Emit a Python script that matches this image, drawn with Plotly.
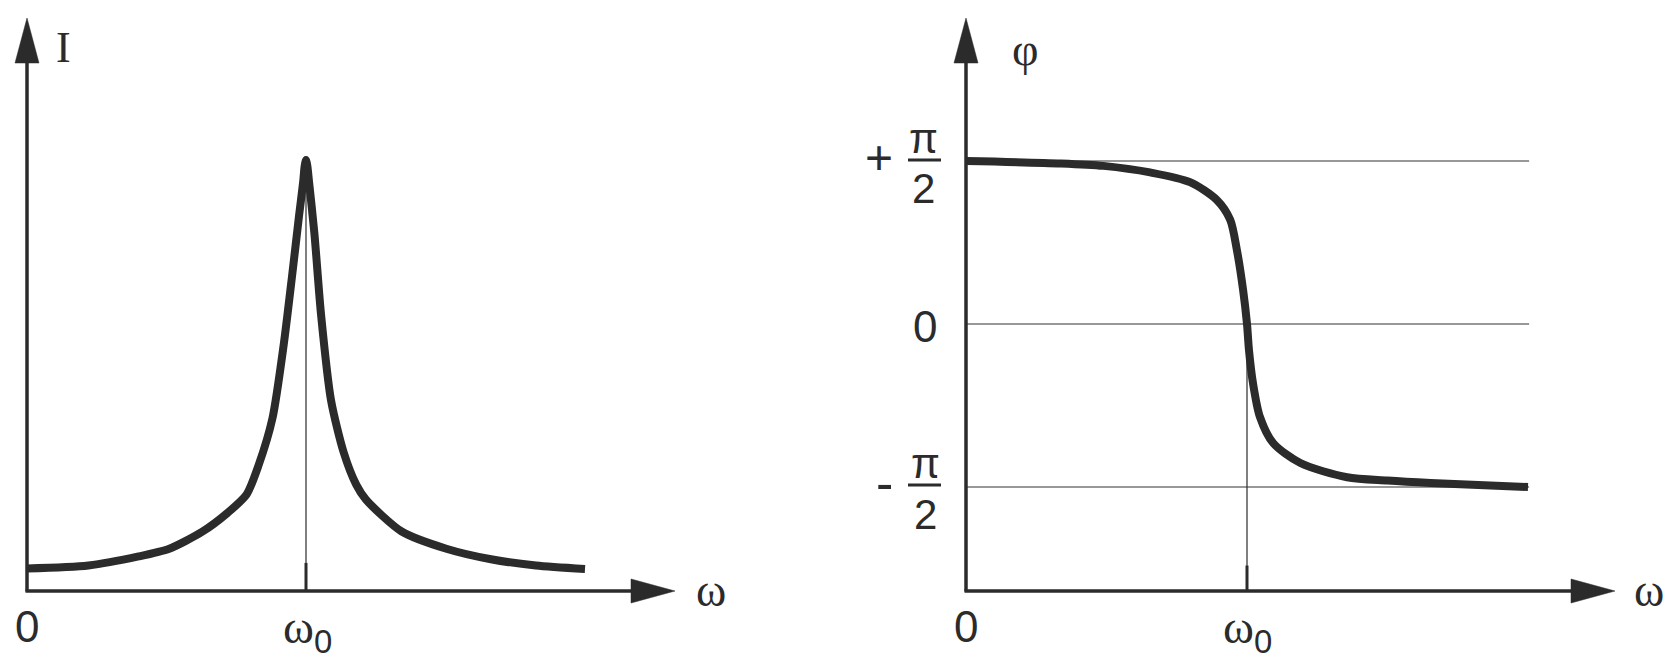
import plotly.graph_objects as go

W, H = 1677, 661
INK = "#2b2b2b"

# ---------------- data ----------------
# resonance curve: omega in units of omega0, current in units of peak current
omega_I = [0.0, 0.22, 0.40, 0.51, 0.627, 0.72, 0.787, 0.83, 0.88, 0.92, 0.95,
           0.975, 0.99, 0.995, 1.0, 1.005, 1.01, 1.03, 1.054, 1.09,
           1.135, 1.18, 1.215, 1.343, 1.503, 1.663, 1.824, 2.0]
I_vals = [0.050, 0.057, 0.078, 0.096, 0.135, 0.18, 0.222, 0.29, 0.40, 0.57, 0.73,
          0.87, 0.95, 0.985, 1.0, 0.985, 0.955, 0.83, 0.64, 0.44,
          0.32, 0.245, 0.21, 0.136, 0.096, 0.0715, 0.057, 0.049]

# phase curve: omega in units of omega0, phase in units of pi/2
omega_phi = [0.0, 0.338, 0.489, 0.655, 0.797, 0.893, 0.94, 0.964, 0.986, 1.0,
             1.007, 1.021, 1.046, 1.093, 1.19, 1.356, 1.5, 1.654, 2.0]
phi_vals = [1.0, 0.985, 0.97, 0.93, 0.87, 0.76, 0.64, 0.454, 0.21, 0.0,
            -0.16, -0.36, -0.57, -0.73, -0.853, -0.94, -0.96, -0.975, -1.0]

omega0 = 1.0
phase_levels = [1, 0, -1]
grid_end = 2.004
x_tick_labels = ["0", "ω"]
x_tick_sub = "0"
y_label_left = "I"
y_label_right = "φ"
x_label = "ω"

# ---------------- geometry (pixels) ----------------
LX0, LX1 = 27, 675
RX0, RX1 = 966, 1615
YT, YB = 18, 590


def px(x):
    return x / W


def py(y):
    return 1 - y / H


left_xr = [0, (LX1 - LX0) / 279]
left_yr = [0, (YB - YT) / 430]
right_xr = [0, (RX1 - RX0) / 281]
right_yr = [(324 - YB) / 163, (324 - YT) / 163]

fig = go.Figure()

# thin omega0 markers
fig.add_trace(go.Scatter(x=[omega0, omega0], y=[0, max(I_vals)], mode="lines",
                         line=dict(color=INK, width=1.2), xaxis="x", yaxis="y",
                         hoverinfo="skip"))
fig.add_trace(go.Scatter(x=[omega0, omega0], y=[right_yr[0], -0.2], mode="lines",
                         line=dict(color=INK, width=1.2), xaxis="x2", yaxis="y2",
                         hoverinfo="skip"))
# thick short ticks at omega0
fig.add_trace(go.Scatter(x=[omega0, omega0], y=[0, 0.063], mode="lines",
                         line=dict(color=INK, width=3), xaxis="x", yaxis="y",
                         hoverinfo="skip"))
fig.add_trace(go.Scatter(x=[omega0, omega0], y=[right_yr[0], right_yr[0] + 0.15],
                         mode="lines", line=dict(color=INK, width=3),
                         xaxis="x2", yaxis="y2", hoverinfo="skip"))

# phase grid lines
for lv in phase_levels:
    fig.add_trace(go.Scatter(x=[0, grid_end], y=[lv, lv], mode="lines",
                             line=dict(color="#333333", width=1.2),
                             xaxis="x2", yaxis="y2", hoverinfo="skip"))

# curves
fig.add_trace(go.Scatter(x=omega_I, y=I_vals, mode="lines",
                         line=dict(color=INK, width=8, shape="spline", smoothing=0.7),
                         xaxis="x", yaxis="y"))
fig.add_trace(go.Scatter(x=omega_phi, y=phi_vals, mode="lines",
                         line=dict(color=INK, width=8, shape="spline", smoothing=0.8),
                         xaxis="x2", yaxis="y2"))

shapes = []
# axis lines
for x0, x1 in [(LX0, LX1), (RX0, RX1)]:
    shapes.append(dict(type="line", xref="paper", yref="paper",
                       x0=px(x0), x1=px(x0), y0=py(YB + 1.5), y1=py(YT + 40),
                       line=dict(color=INK, width=3.5)))
    shapes.append(dict(type="line", xref="paper", yref="paper",
                       x0=px(x0 - 1.5), x1=px(x1 - 40), y0=py(YB + 1), y1=py(YB + 1),
                       line=dict(color=INK, width=3.5)))
    # arrow heads
    shapes.append(dict(type="path", xref="paper", yref="paper",
                       path=f"M {px(x0 - 12)},{py(YT + 45)} L {px(x0)},{py(YT)} "
                            f"L {px(x0 + 12)},{py(YT + 45)} Z",
                       fillcolor=INK, line=dict(color=INK, width=0.5)))
    shapes.append(dict(type="path", xref="paper", yref="paper",
                       path=f"M {px(x1 - 44)},{py(YB + 1 - 12)} L {px(x1)},{py(YB + 1)} "
                            f"L {px(x1 - 44)},{py(YB + 1 + 12)} Z",
                       fillcolor=INK, line=dict(color=INK, width=0.5)))
# fraction bars
for ybar in [160, 485]:
    shapes.append(dict(type="line", xref="paper", yref="paper",
                       x0=px(908), x1=px(941), y0=py(ybar), y1=py(ybar),
                       line=dict(color=INK, width=3)))

SANS = "Liberation Sans, Arial, sans-serif"
SERIF = "Liberation Serif, Times New Roman, serif"


def ann(text, x, y, size=42, family=SANS):
    return dict(text=text, xref="paper", yref="paper", x=px(x), y=py(y),
                xanchor="center", yanchor="middle", showarrow=False,
                font=dict(family=family, size=size, color=INK))


omega0_text = (f"<span style='font-family:{SERIF}'>{x_tick_labels[1]}</span>"
               f"<sub>{x_tick_sub}</sub>")

annotations = [
    ann(y_label_left, 63, 47, 44, SERIF),
    ann(y_label_right, 1025, 50, 46, SERIF),
    ann(x_label, 711, 590, 46, SERIF),
    ann(x_label, 1649, 590, 46, SERIF),
    ann(x_tick_labels[0], 27, 626, 44),
    ann(x_tick_labels[0], 966, 626, 44),
    ann(omega0_text, 307, 630, 47),
    ann(omega0_text, 1247, 630, 47),
    ann("+", 879, 157, 48),
    ann("π", 924, 138, 42),
    ann("2", 924, 188, 42),
    ann("0", 925, 327, 44),
    ann("-", 884, 483, 52),
    ann("π", 925, 463, 42),
    ann("2", 925, 514, 42),
]

axis_common = dict(visible=False, showgrid=False, zeroline=False, fixedrange=True)
fig.update_layout(
    width=W, height=H, autosize=False,
    margin=dict(l=0, r=0, t=0, b=0, pad=0),
    paper_bgcolor="white", plot_bgcolor="rgba(0,0,0,0)",
    showlegend=False,
    xaxis=dict(domain=[px(LX0), px(LX1)], range=left_xr, anchor="y", **axis_common),
    yaxis=dict(domain=[py(YB), py(YT)], range=left_yr, anchor="x", **axis_common),
    xaxis2=dict(domain=[px(RX0), px(RX1)], range=right_xr, anchor="y2", **axis_common),
    yaxis2=dict(domain=[py(YB), py(YT)], range=right_yr, anchor="x2", **axis_common),
    shapes=shapes,
    annotations=annotations,
)

fig.write_html("out.html", config={"displayModeBar": False},
               post_script="document.body.style.margin='0';")
